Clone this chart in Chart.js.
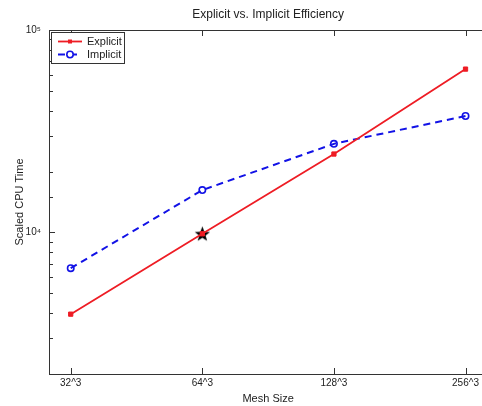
<!DOCTYPE html>
<html>
<head>
<meta charset="utf-8">
<script src="https://cdn.jsdelivr.net/npm/chart.js@4/dist/chart.umd.min.js"></script>
<style>
  html, body { margin: 0; padding: 0; background: #fff; overflow: hidden; }
  #wrap { width: 482px; height: 406px; }
</style>
</head>
<body>
<div id="wrap"><canvas id="c" width="482" height="406"></canvas></div>
<script>
// --- data ---
const meshLabels   = ['32^3', '64^3', '128^3', '256^3'];
const explicitTime = [3950, 9850, 24400, 64100];
const implicitTime = [6660, 16200, 27400, 37600];
const starIndex    = 1;
const starTime     = 9850;
const yMin = 2000, yMax = 100000;
const xMin = -0.165, xMax = 3.116;   // right side of the axes is cropped off in the original

const RED = 'rgb(238,28,36)';
const BLUE = 'rgb(18,18,230)';
const FONT = '"Liberation Sans", Arial, Helvetica, sans-serif';

// filled 5-point star used as point image
function makeStar(size) {
    const cv = document.createElement('canvas');
    cv.width = size; cv.height = size;
    const g = cv.getContext('2d');
    const cx = size / 2, cy = size / 2 + 0.6, ro = size / 2 - 0.5, ri = ro * 0.42;
    g.beginPath();
    for (let i = 0; i < 10; i++) {
        const r = i % 2 ? ri : ro;
        const a = -Math.PI / 2 + i * Math.PI / 5;
        g.lineTo(cx + r * Math.cos(a), cy + r * Math.sin(a));
    }
    g.closePath();
    g.fillStyle = '#000';
    g.fill();
    return cv;
}

const sup = '⁰¹²³⁴⁵⁶⁷⁸⁹';
function isDecade(v) { return Math.abs(Math.log10(v) - Math.round(Math.log10(v))) < 1e-9; }

// box, inward ticks, titles, legend — matlab look
const matlabAxes = {
    id: 'matlabAxes',
    afterDatasetsDraw(chart) {
        const { ctx, chartArea: a, scales: { x, y } } = chart;
        ctx.save();
        ctx.strokeStyle = '#333';
        ctx.lineWidth = 1;
        const L0 = Math.round(a.left) + 0.5, T0 = Math.round(a.top) + 0.5, B0 = Math.round(a.bottom) + 0.5;
        ctx.beginPath();
        ctx.moveTo(chart.width, T0); ctx.lineTo(L0, T0); ctx.lineTo(L0, B0); ctx.lineTo(chart.width, B0);
        y.ticks.forEach(t => {
            const py = Math.round(y.getPixelForValue(t.value)) + 0.5;
            const len = isDecade(t.value) ? 6 : 4;
            ctx.moveTo(a.left, py); ctx.lineTo(a.left + len, py);
        });
        x.ticks.forEach(t => {
            const px = Math.round(x.getPixelForValue(t.value)) + 0.5;
            ctx.moveTo(px, a.bottom); ctx.lineTo(px, a.bottom - 6);
            ctx.moveTo(px, a.top); ctx.lineTo(px, a.top + 6);
        });
        ctx.stroke();

        // titles centred on the full (uncropped) axes
        const mid = (x.getPixelForValue(xMin) + x.getPixelForValue(3 - xMin)) / 2;
        ctx.fillStyle = '#222';
        ctx.textAlign = 'center';
        ctx.textBaseline = 'middle';
        ctx.font = '12px ' + FONT;
        ctx.fillText('Explicit vs. Implicit Efficiency', mid, 15);
        ctx.font = '11px ' + FONT;
        ctx.fillText('Mesh Size', mid, 399);

        // legend
        const L = 51, T = 32, W = 73, H = 31;
        ctx.fillStyle = '#fff';
        ctx.fillRect(L, T, W, H);
        ctx.strokeStyle = '#333';
        ctx.strokeRect(L + 0.5, T + 0.5, W, H);
        const rows = [T + 9.5, T + 22.5];
        chart.data.datasets.slice(0, 2).forEach((ds, i) => {
            const ry = rows[i];
            ctx.strokeStyle = ds.borderColor;
            ctx.lineWidth = ds.borderWidth;
            ctx.setLineDash(ds.borderDash || []);
            ctx.beginPath(); ctx.moveTo(L + 7, ry); ctx.lineTo(L + 31, ry); ctx.stroke();
            ctx.setLineDash([]);
            const mx = L + 19;
            if (ds.pointStyle === 'rect') {
                ctx.fillStyle = ds.borderColor;
                ctx.fillRect(mx - 2, ry - 2, 4, 4);
            } else {
                ctx.lineWidth = ds.pointBorderWidth;
                ctx.fillStyle = '#fff';
                ctx.beginPath(); ctx.arc(mx, ry, ds.pointRadius, 0, Math.PI * 2);
                ctx.fill(); ctx.stroke();
            }
            ctx.fillStyle = '#222';
            ctx.font = '11px ' + FONT;
            ctx.textBaseline = 'middle';
            ctx.textAlign = 'left';
            ctx.fillText(ds.label, L + 36, ry + 0.5);
        });
        ctx.restore();
    }
};

new Chart(document.getElementById('c'), {
    type: 'line',
    data: {
        datasets: [
            {
                label: 'Explicit',
                data: explicitTime.map((v, i) => ({ x: i, y: v })),
                borderColor: RED, backgroundColor: RED,
                borderWidth: 1.8, pointStyle: 'rect', pointRadius: 3,
                pointBorderWidth: 1, tension: 0
            },
            {
                label: 'Implicit',
                data: implicitTime.map((v, i) => ({ x: i, y: v })),
                borderColor: BLUE, backgroundColor: 'rgba(0,0,0,0)',
                borderWidth: 2, borderDash: [7, 5], pointStyle: 'circle',
                pointRadius: 3.2, pointBorderWidth: 1.6, tension: 0
            },
            {
                label: 'star',
                data: [{ x: starIndex, y: starTime }],
                showLine: false, pointStyle: makeStar(17), pointRadius: 8
            }
        ]
    },
    options: {
        responsive: false,
        animation: false,
        devicePixelRatio: 1,
        clip: false,
        layout: { autoPadding: false, padding: { left: 0, right: 0, top: 30, bottom: 0 } },
        plugins: {
            legend: { display: false },
            tooltip: { enabled: false },
            title: { display: false }
        },
        scales: {
            x: {
                type: 'linear', min: xMin, max: xMax,
                afterBuildTicks: s => { s.ticks = meshLabels.map((_, i) => ({ value: i })); },
                afterFit: s => { s.height = 32; },
                grid: { display: false, drawTicks: false },
                border: { display: false },
                ticks: {
                    autoSkip: false, maxRotation: 0, padding: 3,
                    color: '#222', font: { family: FONT, size: 10 },
                    callback: v => meshLabels[v]
                }
            },
            y: {
                type: 'logarithmic', min: yMin, max: yMax,
                afterFit: s => { s.width = 49; },
                grid: { display: false, drawTicks: false },
                border: { display: false },
                ticks: {
                    autoSkip: false, padding: 8,
                    color: '#222', font: { family: FONT, size: 10 },
                    callback: v => isDecade(v) ? '10' + sup[Math.round(Math.log10(v))] : ''
                },
                title: {
                    display: true, text: 'Scaled CPU Time', color: '#222',
                    font: { family: FONT, size: 11 }, padding: { top: 13, bottom: 0 }
                }
            }
        }
    },
    plugins: [matlabAxes]
});
</script>
</body>
</html>
